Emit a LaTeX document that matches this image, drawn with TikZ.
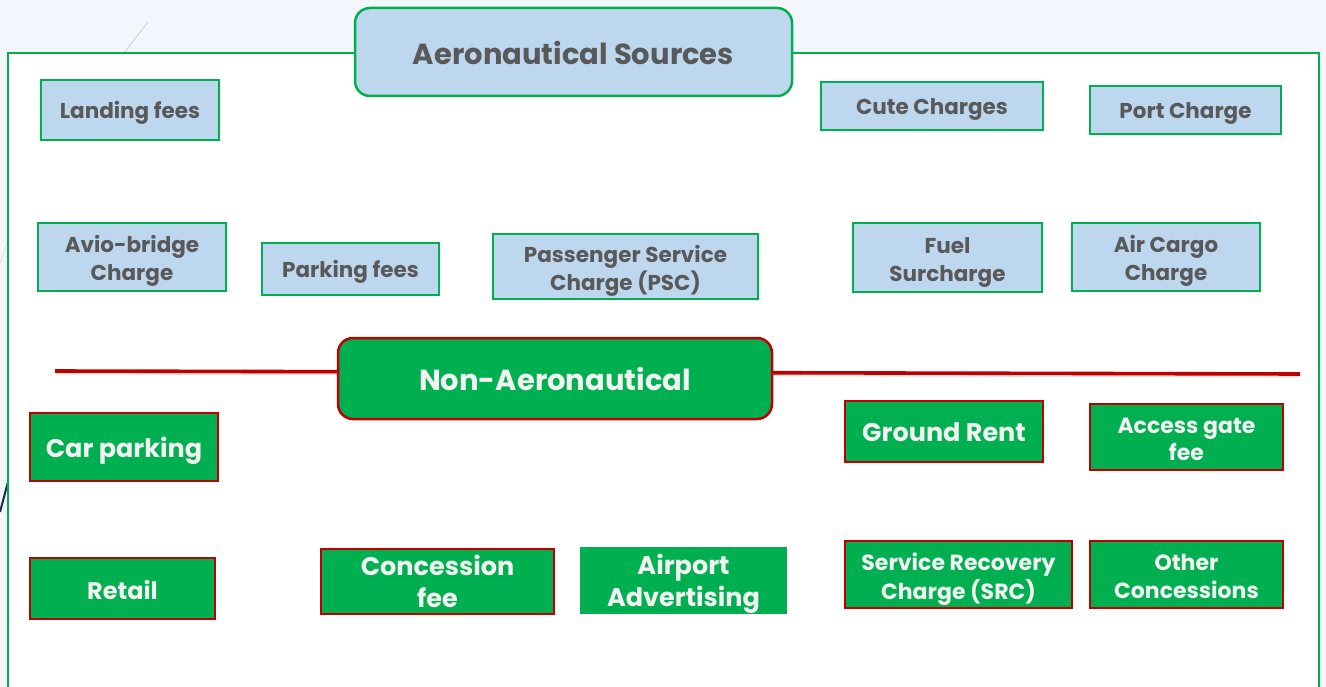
\documentclass[tikz,border=0pt]{standalone}
\usepackage{fontspec}
\setmainfont{Poppins}
\definecolor{frameg}{HTML}{00B050}
\definecolor{boxblue}{HTML}{BDD7EE}
\definecolor{darkred}{HTML}{C00000}
\definecolor{txtgray}{HTML}{595959}
\definecolor{txtwhite}{HTML}{F2F2F2}
\definecolor{slidebg}{HTML}{F3F7FD}
\definecolor{navy}{HTML}{1F2A4F}
\newcommand\TL[2][4]{\raisebox{-#1pt}[\height][\depth]{\begin{tabular}{@{}c@{}}#2\end{tabular}}}
\tikzset{
  aero/.style={draw=frameg, line width=2.2pt, fill=boxblue, text=txtgray,
    font=\bfseries\fontsize{21.5}{28}\selectfont, inner sep=0pt},
  nonaero/.style={draw=darkred, line width=2.4pt, fill=frameg, text=txtwhite,
    font=\bfseries\fontsize{25.5}{32}\selectfont, inner sep=0pt},
  smallnon/.style={nonaero, font=\bfseries\fontsize{22}{27.5}\selectfont},
  titleaero/.style={aero, rounded corners=15pt, line width=2.5pt,
    font=\bfseries\fontsize{29}{32}\selectfont},
  titlenon/.style={nonaero, rounded corners=15pt, line width=2.5pt,
    font=\bfseries\fontsize{29}{32}\selectfont},
  sep/.style={draw=darkred, line width=3.6pt},
}
\begin{document}
\begin{tikzpicture}[x=1pt,y=-1pt]
\useasboundingbox (0,0) rectangle (1326,687);
% slide background
\fill[slidebg] (0,0) rectangle (1326,687);
\fill[white] (8,53) rectangle (1319,700);
% theme decorations
\draw[gray!40, line width=0.8pt] (123,54) -- (148,22);
\draw[gray!30, line width=0.8pt] (0,263) -- (7,243);
\draw[navy, line width=2pt] (0,512) -- (8,482);
% frame
\draw[frameg, line width=2.5pt] (8,700) -- (8,53) -- (1319,53) -- (1319,700);
% separator
\coordinate (sepL) at (55,371);
\coordinate (sepR) at (1300,374);
\draw[black!12, line width=2pt] ([yshift=-2.5pt]sepL) -- ([yshift=-2.5pt]sepR);
\draw[sep] (sepL) -- (sepR);
% titles
\node[titleaero, minimum width=437, minimum height=88] (aerot) at (573.5,52) {\TL[6]{Aeronautical Sources}};
\node[titlenon, minimum width=434, minimum height=81] (nont) at (555,378.5) {\TL[5]{Non-Aeronautical}};
% aeronautical boxes
\node[aero, minimum width=178, minimum height=60] (landing) at (130,110) {\TL[3]{Landing fees}};
\node[aero, minimum width=222, minimum height=48] (cute) at (932,106) {\TL[3]{Cute Charges}};
\node[aero, minimum width=191, minimum height=48] (port) at (1185.5,110) {\TL[3]{Port Charge}};
\node[aero, minimum width=188, minimum height=68] (avio) at (132,257) {\TL{Avio-bridge\\Charge}};
\node[aero, minimum width=177, minimum height=52] (parking) at (350.5,269) {\TL[3]{Parking fees}};
\node[aero, minimum width=265, minimum height=65] (psc) at (625.5,266.5) {\TL{Passenger Service\\Charge (PSC)}};
\node[aero, minimum width=189, minimum height=69] (fuel) at (947.5,257.5) {\TL{Fuel\\Surcharge}};
\node[aero, minimum width=188, minimum height=68] (cargo) at (1166,257) {\TL{Air Cargo\\Charge}};
% non-aeronautical boxes
\node[nonaero, minimum width=188, minimum height=68] (car) at (124,447) {\TL{Car parking}};
\node[nonaero, minimum width=198, minimum height=61] (ground) at (944,431.5) {\TL{Ground Rent}};
\node[smallnon, minimum width=193, minimum height=66] (access) at (1186.5,437) {\TL[4.5]{Access gate\\fee}};
\node[nonaero, font=\bfseries\fontsize{24}{32}\selectfont, minimum width=185, minimum height=61] (retail) at (122.5,588.5) {\TL[5]{Retail}};
\node[nonaero, minimum width=233, minimum height=65] (conc) at (437.5,581.5) {\TL{Concession\\fee}};
\node[nonaero, draw=none, minimum width=207, minimum height=67] (adv) at (683.5,580.5) {\TL[3.5]{Airport\\Advertising}};
\node[smallnon, minimum width=227, minimum height=67] (src) at (958.5,574.5) {\TL[5]{Service Recovery\\Charge (SRC)}};
\node[smallnon, minimum width=193, minimum height=67] (other) at (1186.5,574.5) {\TL[4.5]{Other\\Concessions}};
\end{tikzpicture}
\end{document}
